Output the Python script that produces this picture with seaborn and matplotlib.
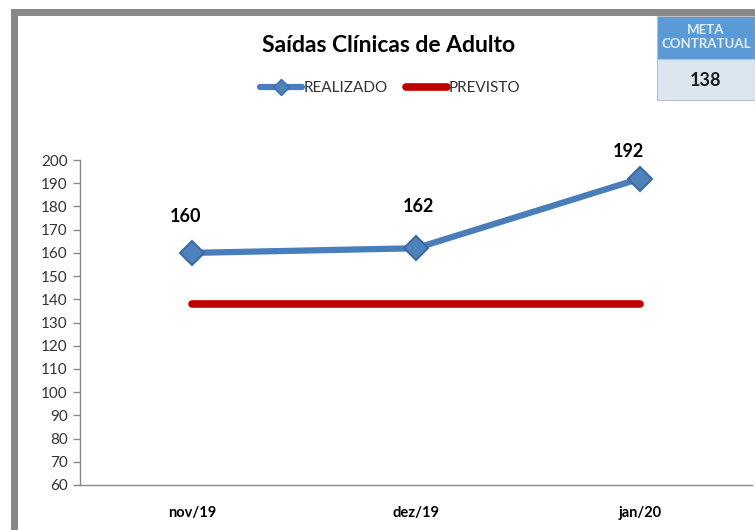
import pandas as pd
import matplotlib.pyplot as plt
import seaborn as sns
from matplotlib.patches import Rectangle
from matplotlib.lines import Line2D

# ---------------------------
# Data
# ---------------------------
meses = ["nov/19", "dez/19", "jan/20"]
realizado = [160, 162, 192]
previsto = [138, 138, 138]
meta = 138

df = pd.DataFrame({"mes": meses, "realizado": realizado, "previsto": previsto})

# ---------------------------
# Style
# ---------------------------
sns.set_style("white")
plt.rcParams["font.family"] = ["Lato", "DejaVu Sans"]

azul = "#4a7ebb"
vermelho = "#c00000"

fig = plt.figure(figsize=(7.55, 5.30), dpi=100)
ax = fig.add_axes([0.106, 0.085, 0.890, 0.613])

sns.lineplot(data=df, x="mes", y="previsto", ax=ax, color=vermelho,
             linewidth=5.5, solid_capstyle="round", zorder=2)
sns.lineplot(data=df, x="mes", y="realizado", ax=ax, color=azul,
             linewidth=4.5, marker="D", markersize=12,
             markerfacecolor="#4f81bd", markeredgecolor="#3c6aa3",
             markeredgewidth=1.5, zorder=3)

# data labels (offsets in points, as placed in the original)
offsets = [(-5, 26.5), (1.5, 30), (-8, 19.5)]
for i, v in enumerate(realizado):
    ax.annotate(str(v), (i, v), xytext=offsets[i],
                textcoords="offset points", ha="center", va="center",
                fontsize=13, fontweight="bold", color="black")

ax.set_xlim(-0.5, 2.5)
ax.set_ylim(60, 200)
ax.set_yticks(range(60, 201, 10))
ax.set_xlabel("")
ax.set_ylabel("")
ax.tick_params(axis="y", labelsize=11, labelcolor="#333333", left=True,
               length=5, width=1, color="#888888", pad=4)
ax.tick_params(axis="x", labelsize=10.5, labelcolor="black", bottom=False, pad=12)
for lbl in ax.get_xticklabels():
    lbl.set_fontweight("bold")

for s in ["top", "right"]:
    ax.spines[s].set_visible(False)
for s in ["left", "bottom"]:
    ax.spines[s].set_color("#888888")
    ax.spines[s].set_linewidth(1)

# title
fig.text(0.514, 0.915, "Saídas Clínicas de Adulto", ha="center", va="center",
         fontsize=16.5, fontweight="bold", color="black")

# legend
h1 = Line2D([], [], color=azul, linewidth=4.5, marker="D", markersize=8,
            markerfacecolor="#4f81bd", markeredgecolor="#3c6aa3")
h2 = Line2D([], [], color=vermelho, linewidth=5.5, solid_capstyle="round")
fig.legend([h1, h2], ["REALIZADO", "PREVISTO"], loc="center",
           bbox_to_anchor=(0.517, 0.834), ncol=2, frameon=False,
           fontsize=11, handlelength=2.7, handletextpad=0.1,
           columnspacing=1.2, labelcolor="#333333")

# gray frame (top and left)
fig.add_artist(Rectangle((11 / 755, 1 - 16 / 530), 1, 7 / 530,
                         transform=fig.transFigure, color="#888888", lw=0))
fig.add_artist(Rectangle((11 / 755, 0), 7 / 755, 1 - 9 / 530,
                         transform=fig.transFigure, color="#888888", lw=0))

# meta box
x0, w = 657 / 755, 98 / 755
fig.add_artist(Rectangle((x0, 1 - 59 / 530), w, 43 / 530,
                         transform=fig.transFigure, facecolor="#5b9bd5",
                         edgecolor="#bfbfbf", lw=0.8))
fig.add_artist(Rectangle((x0, 1 - 100 / 530), w, 41 / 530,
                         transform=fig.transFigure, facecolor="#dce6f1",
                         edgecolor="#bfbfbf", lw=0.8))
fig.text(x0 + w / 2, 1 - 37 / 530, "META\nCONTRATUAL", ha="center",
         va="center", fontsize=9.5, fontweight="bold", color="#e3ecf7",
         linespacing=1.25)
fig.text(x0 + w / 2, 1 - 80 / 530, str(meta), ha="center", va="center",
         fontsize=13, fontweight="bold", color="#1a1a1a")

plt.savefig("out.png", dpi=100)
